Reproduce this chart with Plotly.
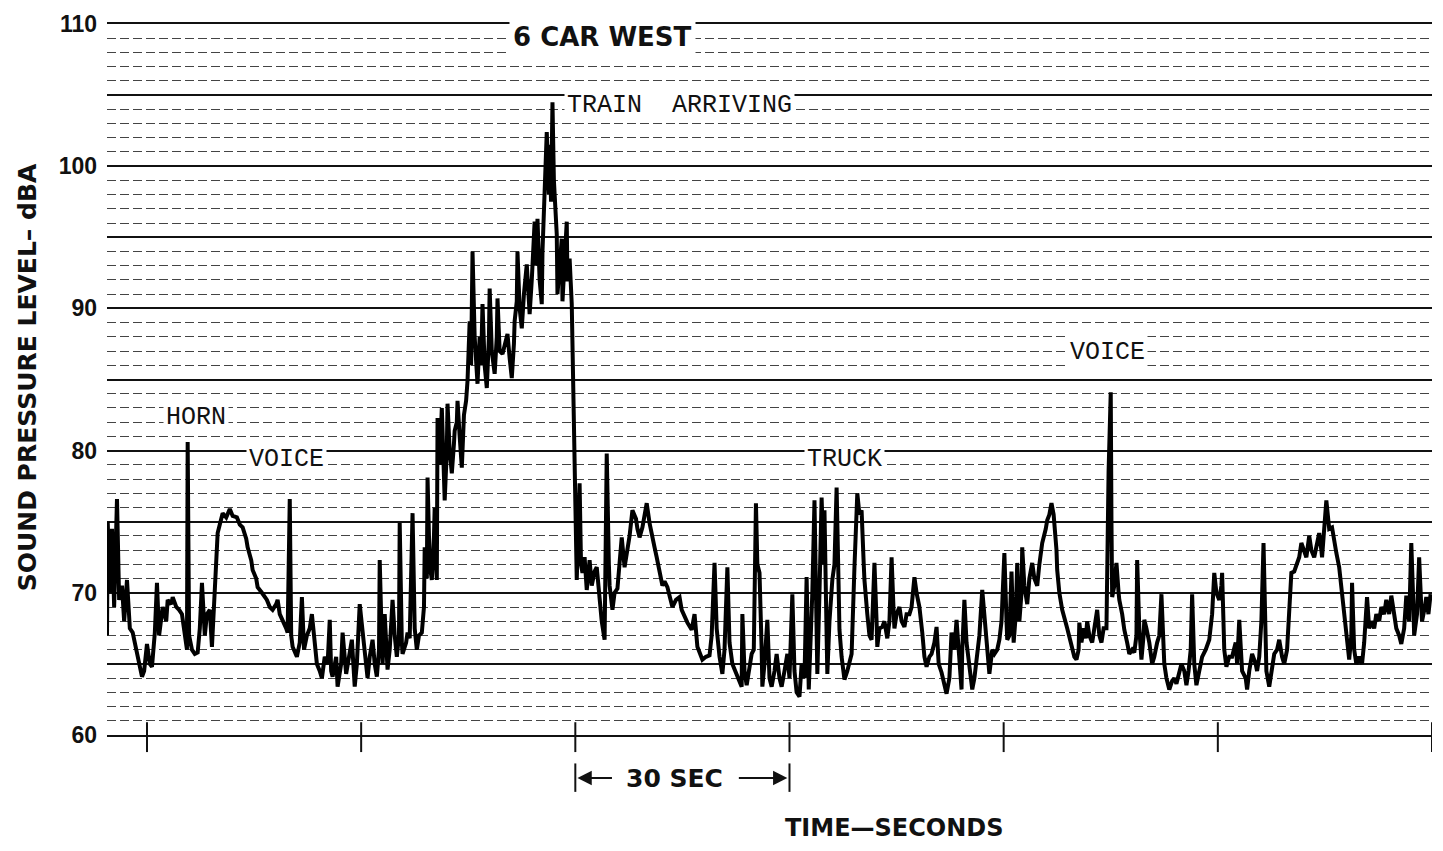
import plotly.graph_objects as go

# ---- data (time in seconds, level in dBA) ----
time_s = [
    -5.6, -5.5, -5.2, -4.9, -4.6, -4.2, -3.9, -3.5, -3.2, -2.8, -2.4, -2.0, -1.5, -1.1, -0.7, -0.4,
    0.0, 0.4, 0.7, 1.1, 1.4, 1.7, 2.0, 2.2, 2.7, 2.9, 3.4, 3.6, 4.1, 4.5, 4.9, 5.3, 5.6, 5.7, 5.9,
    6.3, 6.7, 7.1, 7.4, 7.7, 8.1, 8.4, 8.8, 9.1, 9.5, 9.9, 10.2, 10.6, 11.1, 11.6, 12.0, 12.6, 13.0,
    13.4, 13.9, 14.1, 14.6, 14.8, 15.3, 15.5, 16.1, 16.8, 17.2, 17.6, 18.1, 18.3, 18.6, 19.0, 19.5,
    19.7, 20.0, 20.2, 20.4, 21.0, 21.4, 21.7, 22.0, 22.4, 22.8, 23.1, 23.5, 23.8, 24.2, 24.5, 24.9,
    25.3, 25.6, 25.8, 26.0,
    26.5, 26.7, 27.2, 27.4, 27.9, 28.3, 28.7, 29.1, 29.4, 29.8, 30.2, 30.7, 30.9, 31.2, 31.6, 31.9,
    32.2, 32.5, 32.6, 32.9, 33.0, 33.3, 33.7, 34.0, 34.4, 34.7, 35.0, 35.3, 35.4, 35.7, 35.8, 36.3,
    36.5, 36.8, 37.2, 37.5, 37.8, 38.1, 38.5, 38.8, 38.9, 39.2, 39.3, 39.6, 39.9, 40.2, 40.3, 40.5,
    40.6, 40.7, 41.0, 41.3, 41.6, 41.7, 42.0, 42.1, 42.4, 42.7, 43.0, 43.1, 43.4, 43.5, 43.8, 44.1,
    44.4, 44.7, 44.9,
    45.2, 45.4, 45.6, 45.9, 46.3, 46.6, 46.8, 47.0, 47.3, 47.6, 47.9, 48.0, 48.3, 48.7, 49.0, 49.1,
    49.4, 49.8, 50.1, 50.5, 50.8, 51.1, 51.4, 51.5, 51.8, 51.9, 52.2, 52.5, 52.8, 53.2, 53.5, 53.6,
    53.9, 54.3, 54.5, 54.7, 55.0, 55.3, 55.4, 55.7, 55.9, 56.0, 56.3, 56.4, 56.6, 56.8, 57.0, 57.1,
    57.4, 57.5, 57.8, 58.1, 58.2, 58.5, 58.8, 58.9, 59.2, 59.5, 59.6, 59.8, 59.9, 60.2,
    60.6, 60.8, 61.0, 61.3, 61.6, 62.0, 62.3, 62.7, 63.0, 63.4, 63.7, 64.1, 64.4, 64.7, 64.8, 65.2,
    65.5, 65.9, 66.2, 66.5, 66.9, 67.3, 67.6, 68.0, 68.5, 68.7, 69.0, 69.4, 70.0, 70.4, 70.7, 71.1,
    71.4, 71.8, 72.2, 72.5, 72.9, 73.2, 73.6, 74.1, 74.6, 74.9, 75.3, 75.7, 76.3, 76.7, 77.1, 77.4,
    77.8, 78.3, 78.8, 79.1, 79.5, 79.8, 80.2, 80.6, 80.9, 81.3, 81.6, 82.0, 82.6, 83.0, 83.3, 83.4,
    83.7, 84.0, 84.4, 84.7, 85.0, 85.3, 85.5, 85.8, 86.1, 86.2, 86.5, 86.9, 87.2, 87.5, 87.9, 88.2,
    88.6, 88.9, 89.3, 89.7, 90.0, 90.4, 90.7, 91.0,
    91.4, 91.7, 92.1, 92.4, 92.7, 93.0, 93.2, 93.5, 93.8, 93.9, 94.2, 94.5, 94.8, 94.9, 95.2, 95.3,
    95.6, 96.0, 96.3, 96.6, 96.9, 97.0, 97.3, 97.7, 98.1, 98.4, 98.7, 99.1, 99.4, 99.5, 99.8, 100.1,
    100.4, 100.5, 100.9, 101.2, 101.5, 101.8, 101.9, 102.2, 102.3, 102.6, 103.0, 103.3, 103.7, 104.0,
    104.3, 104.6, 104.7, 105.0, 105.4, 105.7, 106.1, 106.4, 106.8, 107.1, 107.5, 107.8, 108.2, 108.6,
    108.9, 109.2, 109.6, 109.9, 110.3, 110.6, 110.9, 111.3, 111.7, 112.0, 112.4, 112.7, 113.1, 113.4,
    113.7, 114.1, 114.2, 114.5, 114.8, 115.2, 115.6, 115.9, 116.3, 116.6, 117.0, 117.3, 117.6, 118.0,
    118.4, 118.7, 119.1, 119.4, 119.7, 120.1, 120.4, 120.5, 120.8, 121.1, 121.4, 121.7, 121.9, 122.2,
    122.5, 122.6, 122.9, 123.3,
    123.6, 124.0, 124.3, 124.7, 125.0, 125.4, 125.9, 126.1, 126.4, 126.7, 127.0, 127.1, 127.4, 127.5,
    127.8, 128.2, 128.7, 128.9, 129.4, 129.6, 129.9, 130.2, 130.5, 130.6, 130.9, 131.2, 131.5, 131.7,
    132.0, 132.4, 132.7, 133.1, 133.4, 133.7, 134.0, 134.4, 134.7, 135.0, 135.1, 135.2, 135.5, 135.8,
    136.1, 136.2, 136.6, 136.9, 137.3, 137.6, 138.0, 138.3, 138.6, 138.7, 139.0, 139.3, 139.6, 139.7,
    140.0, 140.4, 140.8, 141.1, 141.5, 141.8, 142.1, 142.4, 142.5, 142.8, 143.2, 143.6, 143.9, 144.2,
    144.6, 144.9, 145.3, 145.6, 145.9, 146.2, 146.4, 146.7, 147.0, 147.4, 147.8, 148.3, 148.8, 149.2,
    149.5, 149.8, 150.2, 150.5, 150.6, 150.9, 151.2, 151.6,
    152.0, 152.5, 152.7, 153.0, 153.3, 153.4, 153.9, 154.1, 154.4, 154.8, 155.3, 155.5, 155.8, 156.1,
    156.4, 156.7, 156.8, 157.2, 157.5, 157.9, 158.3, 158.6, 159.0, 159.3, 159.7, 160.0, 160.3, 160.7,
    161.0, 161.4, 161.7, 162.1, 162.4, 162.8, 163.1, 163.5, 163.9, 164.2, 164.5, 164.6, 164.9, 165.2,
    165.5, 165.6, 166.0, 166.3, 166.6, 167.0, 167.3, 167.4, 167.7, 168.0, 168.3, 168.4, 168.7, 168.8,
    169.1, 169.4, 169.8, 170.2, 170.5, 170.9, 171.2, 171.5, 171.9, 172.2, 172.6, 172.9, 173.3, 173.6,
    174.0, 174.3, 174.7, 175.0, 175.4, 175.7, 176.1, 176.4, 176.8, 177.1, 177.4, 177.5, 177.9, 178.2,
    178.5, 178.6, 179.0, 179.2, 179.5, 179.8,
]

level_dba = [
    67.0, 75.0, 70.0, 74.5, 69.0, 76.6, 69.5, 70.5, 68.0, 70.9, 67.5, 67.2, 66.0, 65.0, 64.1, 64.5,
    66.4, 65.0, 64.8, 67.2, 70.7, 67.0, 68.5, 69.0, 68.0, 69.5, 69.2, 69.7, 69.0, 68.8, 68.5, 67.2, 66.0, 80.6, 67.0,
    66.0, 65.7, 65.8, 67.5, 70.7, 67.0, 68.5, 68.8, 66.2, 70.4, 74.2, 74.8, 75.6, 75.3, 75.9, 75.4, 75.3, 74.8,
    74.6, 73.8, 73.2, 72.3, 71.6, 71.0, 70.4, 70.0, 69.5, 69.0, 68.8, 69.2, 69.5, 68.5, 68.1, 67.5,
    67.2, 76.6, 67.0, 66.2, 65.5, 66.5, 69.7, 66.0, 67.0, 67.5, 68.5, 66.0, 65.0, 64.5, 64.0, 65.5,
    65.0, 68.1, 64.5, 64.1,
    65.5, 63.4, 65.0, 67.2, 64.3, 65.5, 66.7, 63.4, 65.0, 69.2, 67.2, 65.0, 64.0, 65.5, 66.7, 65.0,
    64.1, 66.0, 72.3, 66.5, 65.0, 68.5, 64.6, 66.0, 69.5, 67.0, 65.5, 67.0, 74.9, 66.5, 65.7, 66.5,
    67.2, 66.8, 75.6, 67.5, 66.0, 67.0, 67.2, 69.0, 73.2, 71.0, 78.1, 72.0, 70.9, 74.0, 76.0, 72.0,
    70.9, 82.3, 79.0, 83.0, 79.0, 76.5, 80.0, 83.3, 80.0, 78.4, 80.5, 81.4, 82.0, 83.5, 81.0, 78.8,
    82.5, 83.5, 84.9,
    89.1, 86.0, 94.0, 88.0, 84.7, 88.0, 86.0, 90.3, 86.0, 84.4, 88.0, 91.4, 87.0, 85.4, 88.0, 90.7,
    87.0, 86.8, 87.5, 88.2, 86.5, 85.1, 87.5, 89.1, 90.5, 94.0, 90.0, 88.6, 91.0, 93.1, 90.5, 89.6,
    92.0, 96.1, 93.0, 96.3, 92.0, 90.3, 94.0, 97.7, 99.5, 102.4, 98.0, 101.5, 97.5, 104.5, 99.0, 97.7,
    95.2, 91.0, 93.5, 94.9, 90.5, 93.0, 96.1, 91.9, 93.5, 90.3, 87.2, 84.0, 78.0, 70.9,
    77.7, 72.0, 71.4, 72.5, 70.2, 72.3, 70.5, 71.5, 71.8, 69.5, 68.0, 66.7, 79.8, 72.0, 70.5, 68.8,
    70.0, 70.3, 72.0, 73.9, 71.8, 73.0, 74.0, 75.8, 75.2, 74.5, 73.9, 74.6, 76.3, 74.9, 74.0, 73.2,
    72.5, 71.4, 70.5, 70.8, 70.4, 69.8, 69.0, 69.5, 69.7, 68.8, 68.3, 67.9, 67.4, 68.5, 66.2, 65.8,
    65.3, 65.5, 65.6, 67.0, 72.1, 67.5, 65.5, 64.3, 66.0, 71.8, 66.5, 65.0, 64.3, 63.8, 63.4, 68.5,
    64.5, 63.5, 65.0, 65.7, 66.0, 76.3, 72.0, 71.4, 66.0, 63.4, 65.0, 68.1, 64.0, 63.4, 64.5, 65.7,
    64.0, 63.4, 64.5, 65.7, 64.0, 69.9, 64.5, 63.0,
    62.7, 65.0, 64.0, 71.1, 63.2, 67.0, 70.0, 76.5, 66.0, 64.3, 70.0, 76.7, 72.0, 75.8, 67.0, 64.3,
    68.0, 70.9, 72.0, 77.4, 70.0, 67.4, 65.5, 63.9, 64.5, 65.0, 65.7, 71.8, 75.0, 77.0, 75.5, 75.8,
    72.0, 70.9, 68.5, 67.0, 66.7, 70.0, 72.1, 68.0, 66.2, 67.5, 67.6, 68.0, 66.8, 68.0,
    72.5, 68.5, 67.5, 68.5, 69.0, 68.0, 67.6, 68.5, 68.5, 69.0, 71.1, 70.0, 69.0, 67.2,
    65.5, 64.8, 65.5, 65.7, 66.5, 67.6, 65.0, 64.4, 63.5, 62.9, 64.0, 67.2, 66.0, 68.1,
    66.0, 63.2, 66.0, 69.5, 66.5, 65.0, 63.2, 64.0, 65.7, 67.0, 70.2, 68.5, 66.0, 64.3,
    66.0, 65.7, 66.0, 66.7, 68.0, 72.8, 68.0, 66.7, 67.0, 71.5, 66.5, 68.5, 72.1, 68.0,
    70.0, 73.2, 70.5, 69.2,
    71.0, 72.1, 71.0, 70.5, 72.0, 73.5, 74.5, 75.1, 75.5, 76.3, 75.5, 75.0, 73.0, 71.6,
    70.0, 68.8, 68.0, 67.5, 66.5, 66.0, 65.5, 65.3, 66.0, 67.9, 66.5, 67.5, 66.8, 68.0,
    67.0, 66.5, 67.5, 68.8, 67.0, 66.5, 67.5, 67.5, 78.6, 84.1, 75.0, 69.7, 70.5, 72.1,
    70.0, 69.5, 68.5, 67.4, 66.5, 65.7, 66.0, 65.8, 67.0, 72.3, 67.5, 65.3, 67.0, 68.1,
    67.5, 66.5, 65.0, 65.5, 66.5, 67.0, 69.9, 66.0, 65.0, 64.0, 63.2, 63.8, 64.0, 63.6,
    64.5, 65.0, 64.5, 63.5, 64.5, 66.0, 69.9, 65.0, 63.5, 64.5, 65.5, 66.0, 66.7, 68.5,
    71.4, 70.0, 69.5, 70.5, 71.4, 66.0, 64.8, 65.5,
    65.5, 66.5, 65.0, 68.1, 65.0, 64.5, 64.0, 63.2, 64.5, 65.7, 65.0, 64.5, 65.5, 68.0,
    73.5, 68.0, 64.5, 63.4, 64.5, 65.7, 66.0, 66.7, 65.5, 65.0, 66.0, 68.5, 71.4, 71.5,
    72.0, 72.5, 73.5, 72.8, 72.5, 74.0, 73.0, 72.5, 73.5, 74.2, 73.0, 72.5, 74.5, 76.5,
    75.0, 74.5, 74.6, 73.5, 72.8, 71.8, 70.5, 69.5, 68.5, 67.4, 66.0, 65.3, 67.0, 70.7,
    66.0, 65.0, 65.5, 65.0, 66.5, 69.7, 67.5, 68.0, 67.5, 68.5, 68.0, 69.0, 68.5, 69.5,
    68.5, 69.8, 68.5, 67.5, 67.0, 66.4, 67.5, 69.8, 68.0, 73.5, 69.0, 67.0, 68.5, 72.5,
    69.0, 68.0, 69.0, 69.7, 68.5, 69.9,
]

x_ticks = [0, 30, 60, 90, 120, 150, 180]
y_tickvals = [60, 65, 70, 75, 80, 85, 90, 95, 100, 105, 110]
y_ticktext = ["60", "", "70", "", "80", "", "90", "", "100", "", "110"]

event_labels = ["HORN", "VOICE", "TRAIN  ARRIVING", "TRUCK", "VOICE"]
event_t = [6.9, 19.5, 74.6, 97.7, 134.5]
event_db = [82.3, 79.4, 104.3, 79.4, 86.9]

bracket_start, bracket_end = 60, 90

fig = go.Figure()
fig.add_trace(go.Scatter(
    x=time_s, y=level_dba, mode="lines",
    line=dict(color="black", width=4),
    hoverinfo="skip", showlegend=False,
))

INK = "#111111"
sans = "DejaVu Sans"
mono = "Liberation Mono"

fig.update_layout(
    width=1427, height=835,
    margin=dict(l=99, r=3, t=14, b=108),
    paper_bgcolor="white", plot_bgcolor="white",
    showlegend=False,
    xaxis=dict(
        range=[-5.6, 180], showgrid=False, zeroline=False,
        showticklabels=False, ticks="",
        showline=True, mirror=True, linecolor=INK, linewidth=2,
    ),
    yaxis=dict(
        range=[60, 110], zeroline=False,
        tickmode="array", tickvals=y_tickvals, ticktext=y_ticktext,
        tickfont=dict(family="Liberation Sans", size=23, color=INK, weight="bold"),
        ticks="", ticklabelstandoff=9,
        showgrid=True, gridcolor=INK, gridwidth=1.8,
        minor=dict(dtick=1, showgrid=True, gridcolor="#444444",
                   griddash="9px,4px", gridwidth=1),
        showline=False,
    ),
)

# x tick marks crossing the baseline
for t in x_ticks:
    fig.add_shape(type="line", xref="x", yref="paper", x0=t, x1=t,
                  y0=-0.024, y1=0.018, line=dict(color=INK, width=2))

# 30 s bracket
for t in (bracket_start, bracket_end):
    fig.add_shape(type="line", xref="x", yref="paper", x0=t, x1=t,
                  y0=-0.040, y1=-0.080, line=dict(color=INK, width=2))
fig.add_annotation(x=bracket_start + 0.3, y=-0.0605, xref="x", yref="paper",
                   ax=36, ay=0, axref="pixel", ayref="pixel", text="",
                   showarrow=True, arrowhead=2, arrowsize=1.3, arrowwidth=2.2,
                   arrowcolor=INK, standoff=0, startstandoff=0)
fig.add_annotation(x=bracket_end - 0.3, y=-0.0605, xref="x", yref="paper",
                   ax=-50, ay=0, axref="pixel", ayref="pixel", text="",
                   showarrow=True, arrowhead=2, arrowsize=1.3, arrowwidth=2.2,
                   arrowcolor=INK, standoff=0, startstandoff=0)
fig.add_annotation(x=73.9, y=-0.0605, xref="x", yref="paper",
                   xanchor="center", yanchor="middle",
                   text="<b>30 SEC</b>", showarrow=False,
                   font=dict(family=sans, size=25, color=INK))

# axis titles
fig.add_annotation(x=104.7, y=-0.1305, xref="x", yref="paper",
                   xanchor="center", yanchor="middle",
                   text="<b>TIME—SECONDS</b>", showarrow=False,
                   font=dict(family=sans, size=24, color=INK))
fig.add_annotation(x=-0.0604, y=0.503, xref="paper", yref="paper",
                   xanchor="center", yanchor="middle",
                   text="<b>SOUND PRESSURE LEVEL– dBA</b>", textangle=-90,
                   showarrow=False, font=dict(family=sans, size=25, color=INK))

# title inside plot
fig.add_annotation(x=63.8, y=109.1, xref="x", yref="y",
                   xanchor="center", yanchor="middle",
                   text="<b>6 CAR WEST</b>", showarrow=False, bgcolor="white",
                   borderpad=3, font=dict(family=sans, size=26, color=INK))

# event labels
for lab, t, db in zip(event_labels, event_t, event_db):
    fig.add_annotation(x=t, y=db, xref="x", yref="y", text=lab, showarrow=False,
                       xanchor="center", yanchor="middle",
                       bgcolor="white", borderpad=2,
                       font=dict(family=mono, size=25, color=INK))

fig.write_html("out.html")
